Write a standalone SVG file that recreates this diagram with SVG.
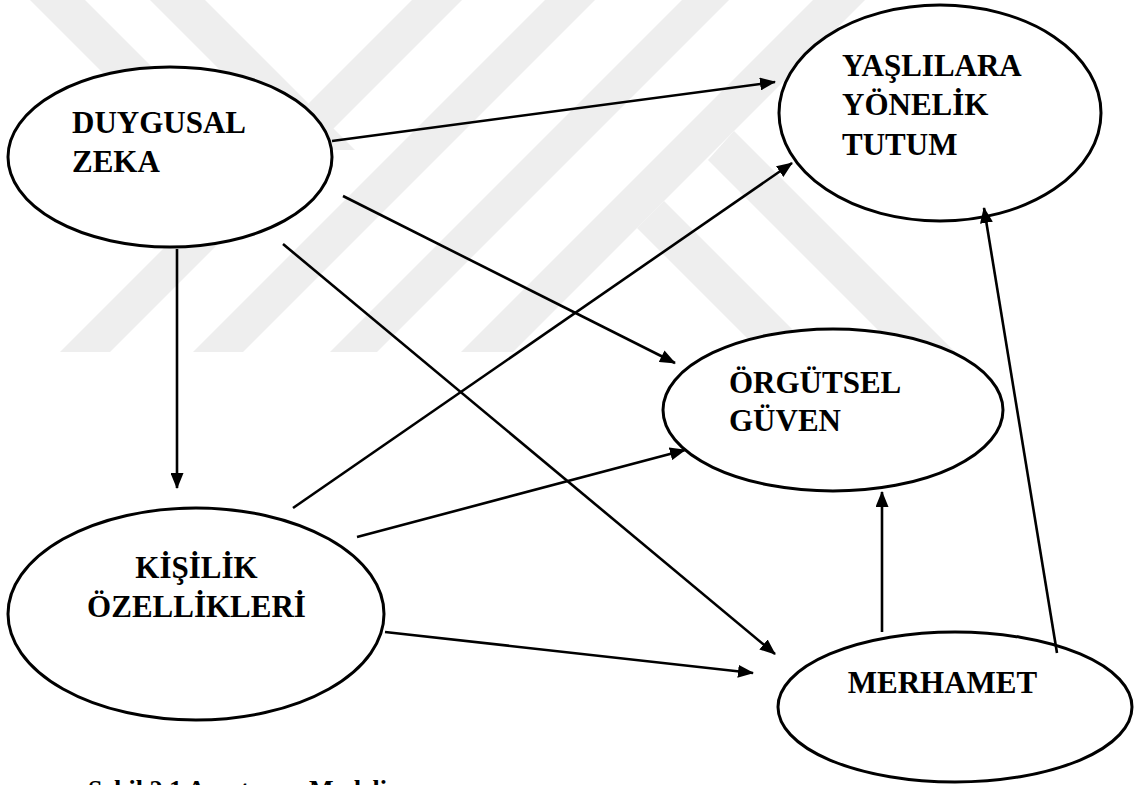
<svg xmlns="http://www.w3.org/2000/svg" width="1140" height="785" viewBox="0 0 1140 785">
<defs>
<marker id="arr" markerUnits="userSpaceOnUse" markerWidth="16" markerHeight="13" refX="15" refY="6.5" orient="auto">
<path d="M0,0 L16,6.5 L0,13 z" fill="#000"/>
</marker>
<clipPath id="wmclip"><rect x="0" y="0" width="1140" height="352"/></clipPath>
<style>
.wm{fill:#eeeeee;stroke:none}
.node ellipse{fill:#fff;stroke:#000;stroke-width:3}
.node text{font-family:"Liberation Serif","Times New Roman",serif;font-weight:bold;font-size:31px;fill:#000}
.conn line{stroke:#000;stroke-width:2.6;marker-end:url(#arr)}
.cap{font-family:"Liberation Serif","Times New Roman",serif;font-weight:bold;font-size:26px;fill:#000}
</style>
</defs>
<rect width="1140" height="785" fill="#fff"/>
<g id="watermark" clip-path="url(#wmclip)">
<polygon class="wm" points="30,0 85,0 235,150 180,150"/>
<polygon class="wm" points="150,0 205,0 355,150 300,150"/>
<polygon class="wm" points="412,0 462,0 110,352 60,352"/>
<polygon class="wm" points="545,0 595,0 243,352 193,352"/>
<polygon class="wm" points="682,0 729,0 377,352 330,352"/>
<polygon class="wm" points="813,0 865,0 513,352 461,352"/>
<polygon class="wm" points="664,201 637,228 761,352 815,352"/>
<polygon class="wm" points="734,131 708,160 900,352 955,352"/>
</g>
<g id="node-duygusal" class="node">
<ellipse cx="170" cy="157" rx="162" ry="90"/>
<text x="72" y="133">DUYGUSAL</text>
<text x="72" y="172">ZEKA</text>
</g>
<g id="node-yaslilara" class="node">
<ellipse cx="940" cy="113" rx="161" ry="108"/>
<text x="842" y="76">YAŞLILARA</text>
<text x="842" y="115">YÖNELİK</text>
<text x="842" y="155">TUTUM</text>
</g>
<g id="node-orgutsel" class="node">
<ellipse cx="833" cy="410" rx="170" ry="81"/>
<text x="729" y="393">ÖRGÜTSEL</text>
<text x="729" y="431">GÜVEN</text>
</g>
<g id="node-kisilik" class="node">
<ellipse cx="196" cy="614" rx="188" ry="106"/>
<text x="196.5" y="578" text-anchor="middle">KİŞİLİK</text>
<text x="196.5" y="617" text-anchor="middle">ÖZELLİKLERİ</text>
</g>
<g id="node-merhamet" class="node">
<ellipse cx="955" cy="707" rx="177" ry="75"/>
<text x="942.5" y="693" text-anchor="middle">MERHAMET</text>
</g>
<g id="connectors" class="conn">
<line x1="332" y1="141" x2="775" y2="82"/>
<line x1="343" y1="196" x2="675" y2="363"/>
<line x1="283" y1="244" x2="775" y2="654"/>
<line x1="177" y1="249" x2="177" y2="488"/>
<line x1="293" y1="508" x2="792" y2="163"/>
<line x1="357" y1="537" x2="685" y2="450"/>
<line x1="385" y1="632" x2="753" y2="673"/>
<line x1="882" y1="632" x2="882" y2="492"/>
<line x1="1057" y1="653" x2="984" y2="208"/>
</g>
<text class="cap" x="88" y="798">Şekil 2.1 Araştırma Modeli</text>
</svg>
